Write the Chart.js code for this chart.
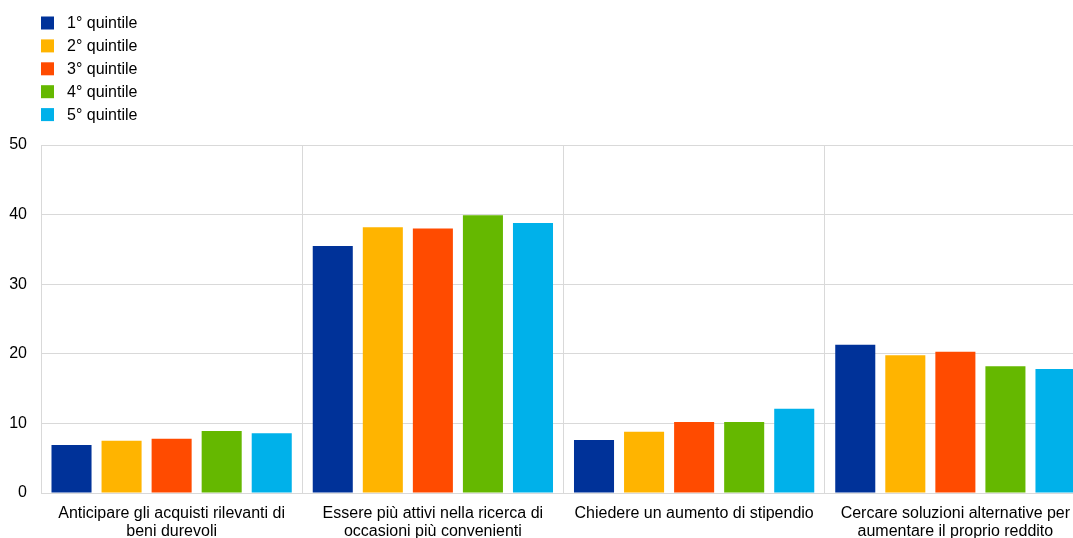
<!DOCTYPE html>
<html>
<head>
<meta charset="utf-8">
<script src="https://cdn.jsdelivr.net/npm/chart.js@4/dist/chart.umd.min.js"></script>
<style>
html,body{margin:0;padding:0;background:#fff;overflow:hidden;width:1073px;height:538px;}
#wrap{position:relative;width:1086px;height:538px;}
</style>
</head>
<body>
<div id="wrap"><canvas id="c"></canvas></div>
<script>
const categories = [
  ["Anticipare gli acquisti rilevanti di", "beni durevoli"],
  ["Essere più attivi nella ricerca di", "occasioni più convenienti"],
  ["Chiedere un aumento di stipendio"],
  ["Cercare soluzioni alternative per", "aumentare il proprio reddito"]
];
const seriesLabels = ["1° quintile", "2° quintile", "3° quintile", "4° quintile", "5° quintile"];
const q1 = [6.9, 35.5, 7.6, 21.3];
const q2 = [7.5, 38.2, 8.8, 19.8];
const q3 = [7.8, 38.0, 10.2, 20.3];
const q4 = [8.9, 39.9, 10.2, 18.2];
const q5 = [8.6, 38.8, 12.1, 17.8];
const colors = ["#003299", "#FFB400", "#FF4B00", "#65B800", "#00B1EA"];
const yTicks = [0, 10, 20, 30, 40, 50];

const seriesValues = [q1, q2, q3, q4, q5];
const datasets = seriesValues.map((v, i) => ({
  label: seriesLabels[i],
  data: v,
  backgroundColor: colors[i],
  borderWidth: 0,
  barPercentage: 0.8,
  categoryPercentage: 0.958
}));

const FONT = "'Liberation Sans', Arial, sans-serif";

const legendPlugin = {
  id: 'vlegend',
  afterDraw(chart) {
    const ctx = chart.ctx;
    ctx.save();
    ctx.font = "16px " + FONT;
    ctx.textBaseline = 'middle';
    ctx.textAlign = 'left';
    chart.data.datasets.forEach((ds, i) => {
      const cy = 23 + i * 22.9;
      ctx.fillStyle = ds.backgroundColor;
      ctx.fillRect(41, cy - 6.5, 13, 13);
      ctx.fillStyle = '#000';
      ctx.fillText(ds.label, 67, cy + 0.5);
    });
    ctx.restore();
  }
};

new Chart(document.getElementById('c'), {
  type: 'bar',
  data: { labels: categories, datasets: datasets },
  options: {
    responsive: true,
    maintainAspectRatio: false,
    animation: false,
    layout: { padding: { top: 145, left: 0, right: 0, bottom: 0 } },
    plugins: { legend: { display: false }, tooltip: { enabled: false } },
    scales: {
      x: {
        grid: { color: '#d9d9d9', lineWidth: 1, drawTicks: false, offset: true },
        border: { color: '#d9d9d9' },
        ticks: { color: '#000', font: { family: FONT, size: 16, lineHeight: 1.12 }, padding: 12, maxRotation: 0, autoSkip: false },
        afterFit(s) { s.height = 45; }
      },
      y: {
        min: 0, max: 50,
        afterBuildTicks(s) { s.ticks = yTicks.map(v => ({ value: v })); },
        grid: { color: '#d9d9d9', lineWidth: 1, drawTicks: false },
        border: { color: '#d9d9d9' },
        ticks: { color: '#000', font: { family: FONT, size: 16 }, padding: 14 },
        afterFit(s) { s.width = 41; }
      }
    }
  },
  plugins: [legendPlugin]
});
</script>
</body>
</html>
